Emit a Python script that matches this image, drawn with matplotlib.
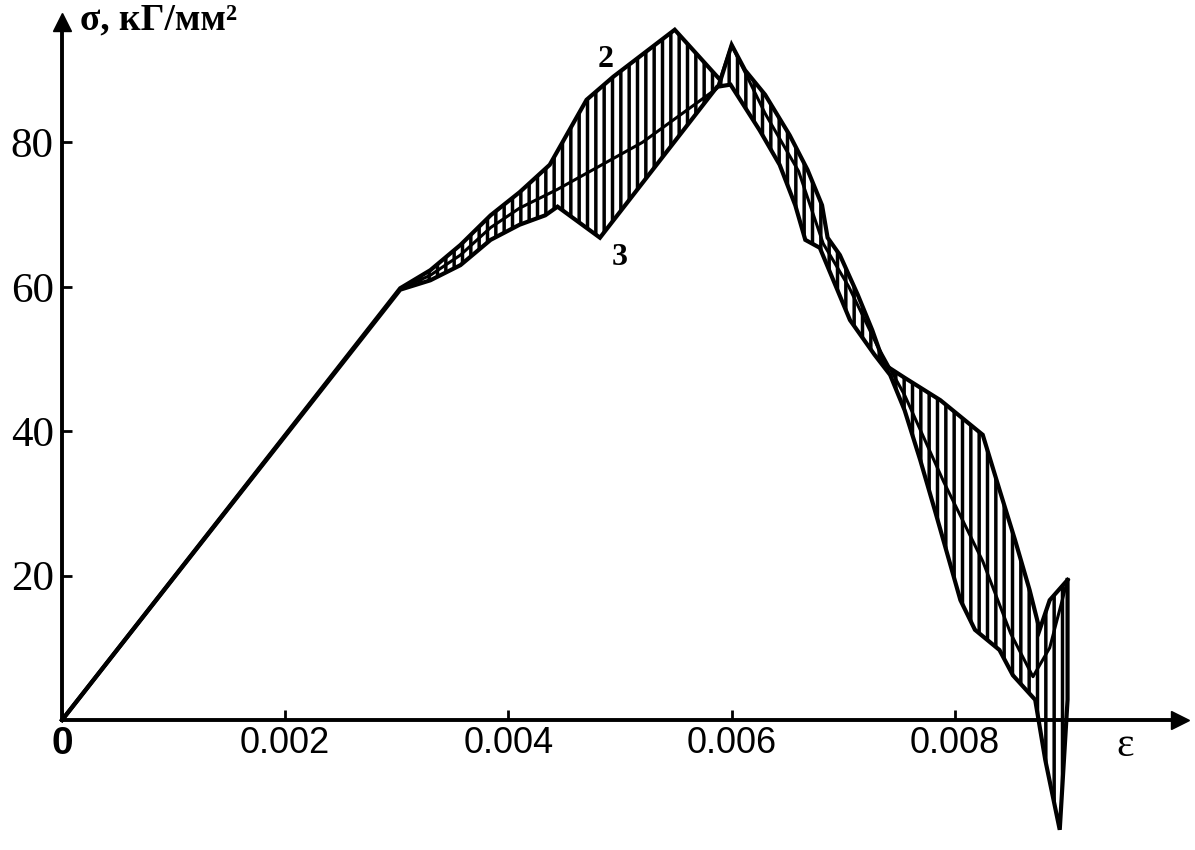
import numpy as np
import matplotlib
matplotlib.use("Agg")
import matplotlib.pyplot as plt

# ---- data (strain eps, stress sigma in kG/mm^2) ----
upper_eps = [0.0, 0.00303, 0.00330, 0.00357, 0.00384, 0.00410, 0.00437, 0.00470, 0.00494,
             0.00549, 0.00590, 0.00600, 0.00612, 0.00630, 0.00652, 0.00668, 0.00681,
             0.00686, 0.00697, 0.00713, 0.00726, 0.00737, 0.00755, 0.00787, 0.00825,
             0.00840, 0.00854, 0.00867, 0.00876, 0.00885, 0.00901]
upper_sig = [0.0, 59.8, 62.3, 65.8, 69.9, 73.1, 76.9, 85.9, 89.1,
             95.6, 88.6, 93.5, 90.0, 86.6, 81.0, 76.2, 71.3,
             66.8, 64.4, 58.9, 54.0, 49.2, 47.4, 44.3, 39.5,
             31.9, 24.9, 18.0, 12.5, 16.6, 19.4]

lower_eps = [0.0, 0.00303, 0.00330, 0.00357, 0.00384, 0.00410, 0.00433, 0.00444, 0.00482,
             0.00587, 0.00599, 0.00625, 0.00643, 0.00657, 0.00666, 0.00679, 0.00706,
             0.00728, 0.00742, 0.00755, 0.00769, 0.00782, 0.00796, 0.00805, 0.00818,
             0.00840, 0.00852, 0.00872, 0.00881, 0.00894, 0.00901, 0.00901]
lower_sig = [0.0, 59.6, 60.9, 63.0, 66.5, 68.6, 69.9, 71.1, 66.8,
             87.7, 88.0, 81.7, 76.9, 71.3, 66.5, 65.4, 55.4,
             50.6, 47.8, 42.9, 36.0, 29.1, 21.5, 16.6, 12.5,
             9.7, 6.2, 2.8, -5.5, -15.2, 2.8, 19.4]

mid_eps = [0.0, 0.00303, 0.00330, 0.00357, 0.00384, 0.00410, 0.00444, 0.00520, 0.00587,
           0.00600, 0.00630, 0.00660, 0.00682, 0.00705, 0.00730, 0.00755, 0.00790,
           0.00825, 0.00850, 0.00870, 0.00885, 0.00901]
mid_sig = [0.0, 59.7, 61.6, 64.4, 68.2, 70.9, 73.5, 80.0, 87.5,
           93.5, 84.0, 76.0, 66.0, 60.0, 52.0, 45.0, 33.0,
           22.0, 12.0, 6.0, 10.0, 19.4]

x_ticks = [0.0, 0.002, 0.004, 0.006, 0.008]
x_ticklabels = ["0", "0.002", "0.004", "0.006", "0.008"]
y_ticks = [20, 40, 60, 80]
y_ticklabels = ["20", "40", "60", "80"]

# ---- figure ----
plt.rcParams['hatch.linewidth'] = 2.5
fig = plt.figure(figsize=(11.95, 8.5), dpi=100)
ax = fig.add_axes([0, 0, 1, 1])
ax.set_xlim(-0.000556, 0.010152)
ax.set_ylim(-18.0, 99.72)

# hatched band between envelopes
poly_x = np.concatenate([upper_eps, lower_eps[::-1]])
poly_y = np.concatenate([upper_sig, lower_sig[::-1]])
ax.fill(poly_x, poly_y, facecolor='none', edgecolor='black', hatch='||', linewidth=0)

ax.plot(upper_eps, upper_sig, color='black', lw=3.0, solid_joinstyle='miter')
ax.plot(lower_eps, lower_sig, color='black', lw=3.0, solid_joinstyle='miter')
ax.plot(mid_eps, mid_sig, color='black', lw=2.2)

# axes styling
for s in ['top', 'right']:
    ax.spines[s].set_visible(False)
ax.spines['left'].set_position(('data', 0))
ax.spines['bottom'].set_position(('data', 0))
ax.spines['left'].set_bounds(0, 96.7)
ax.spines['bottom'].set_bounds(0, 0.01002)
ax.spines['left'].set_linewidth(2.8)
ax.spines['bottom'].set_linewidth(2.8)
ax.plot([0.01002], [0], marker='>', ms=13, color='black', clip_on=False)
ax.plot([0], [96.7], marker='^', ms=13, color='black', clip_on=False)

ax.set_xticks(x_ticks)
ax.set_xticklabels(x_ticklabels, fontfamily='Liberation Sans', fontsize=26)
ax.set_yticks(y_ticks)
ax.set_yticklabels(y_ticklabels, fontfamily='Liberation Serif', fontsize=31)
ax.tick_params(axis='x', direction='in', length=7, width=2, pad=4)
ax.tick_params(axis='y', direction='in', length=7, width=2, pad=6)
xl = ax.get_xticklabels()
xl[0].set_fontweight('bold')
xl[0].set_fontsize(28)

ax.text(0.00016, 97.0, "σ, кГ/мм²", fontfamily='Liberation Serif', fontweight='bold',
        fontsize=27, ha='left', va='center')
ax.text(0.00953, -3.6, "ε", fontfamily='Liberation Serif', fontsize=30, ha='center', va='center')
ax.text(0.00487, 91.5, "2", fontfamily='Liberation Serif', fontweight='bold', fontsize=23,
        ha='center', va='center')
ax.text(0.00500, 64.0, "3", fontfamily='Liberation Serif', fontweight='bold', fontsize=23,
        ha='center', va='center')

fig.savefig("out.png", dpi=100, facecolor='white')
